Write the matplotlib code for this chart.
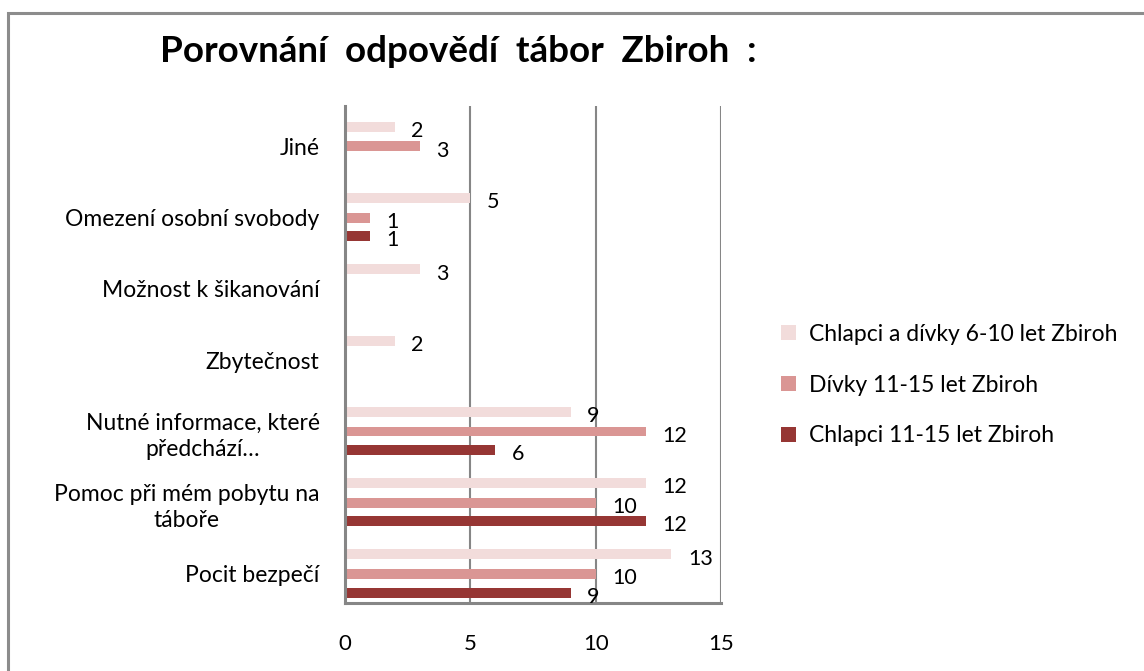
import numpy as np
import matplotlib.pyplot as plt
from matplotlib.patches import Rectangle

plt.rcParams['font.family'] = ['Lato', 'DejaVu Sans']

categories = ["Pocit bezpečí",
              "Pomoc při mém pobytu na\ntáboře",
              "Nutné informace, které\npředchází…",
              "Zbytečnost",
              "Možnost k šikanování",
              "Omezení osobní svobody",
              "Jiné"]
series_names = ["Chlapci a dívky 6-10 let Zbiroh",
                "Dívky 11-15 let Zbiroh",
                "Chlapci 11-15 let Zbiroh"]
young = [13, 12, 9, 2, 3, 5, 2]
girls = [10, 10, 12, np.nan, np.nan, 1, 3]
boys = [9, 12, 6, np.nan, np.nan, 1, np.nan]
x_ticks = [0, 5, 10, 15]

colors = ["#F2DCDB", "#DA9694", "#963634"]

fig = plt.figure(figsize=(11.44, 6.71), dpi=100)
# outer chart frame (runs off the right and bottom edge)
fig.patches.append(Rectangle((8 / 1144, -0.1), 1.2, 1.1 - 12.5 / 671,
                             transform=fig.transFigure, fill=False,
                             edgecolor="#8c8c8c", linewidth=2.2))

ax = fig.add_axes([344.5 / 1144, (671 - 603) / 671,
                   (721.5 - 344.5) / 1144, (603 - 106) / 671])

y = np.arange(len(categories))
h = 0.14
offsets = [0.275, 0.0, -0.26]
for vals, off, col, name in zip([young, girls, boys], offsets, colors, series_names):
    vals = np.array(vals, dtype=float)
    ax.barh(y + off, vals, height=h, color=col, label=name)
    for yi, v in zip(y, vals):
        if np.isnan(v):
            continue
        ax.annotate(f"{int(v)}", (v, yi + off), xytext=(12, -3),
                    textcoords="offset points", ha="left", va="center",
                    fontsize=15.5, color="black")

ax.set_xlim(0, 15)
ax.set_ylim(-0.407, 6.568)
ax.set_xticks(x_ticks)
ax.set_yticks(y)
ax.set_yticklabels(categories, fontsize=16.5, linespacing=1.3)
for lab in ax.get_yticklabels():
    lab.set_multialignment("center")
ax.tick_params(axis="x", labelsize=16, length=0, pad=22)
ax.tick_params(axis="y", length=0, pad=18)

ax.grid(axis="x", color="#868686", linewidth=1.5)
ax.set_axisbelow(True)
for s in ["top", "right"]:
    ax.spines[s].set_visible(False)
ax.spines["left"].set_color("#868686")
ax.spines["left"].set_linewidth(2.2)
ax.spines["bottom"].set_color("#868686")
ax.spines["bottom"].set_linewidth(2.2)

fig.text(160 / 1144, 1 - 52 / 671, "Porovnání  odpovědí  tábor  Zbiroh  :",
         fontsize=26.5, fontweight="bold", ha="left", va="center")

handles, labels = ax.get_legend_handles_labels()
fig.legend(handles, labels, loc="center left",
           bbox_to_anchor=(760 / 1144, 1 - 385 / 671), frameon=False,
           fontsize=16.5, handlelength=0.65, handleheight=0.65,
           labelspacing=1.3, handletextpad=0.6)

fig.savefig("out.png", dpi=100)
